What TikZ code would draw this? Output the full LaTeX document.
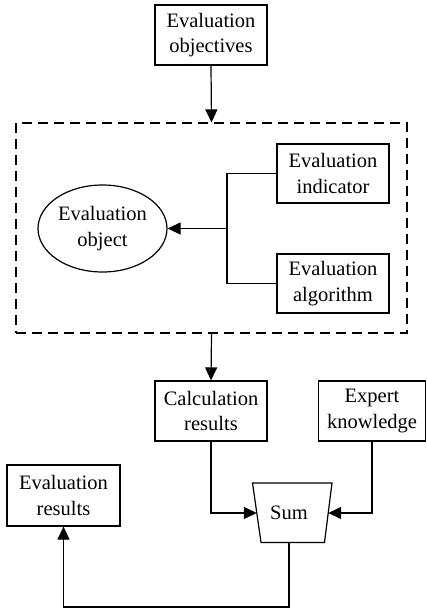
\documentclass[tikz,border=0pt]{standalone}
\usepackage{fontspec}
\setmainfont{Liberation Serif}
\usetikzlibrary{arrows.meta,shapes.geometric}
\begin{document}
\begin{tikzpicture}[x=1pt,y=-1pt,
  every node/.style={font=\fontsize{20.5}{25.5}\selectfont, align=center, inner sep=0pt},
  box/.style={draw, line width=1.2pt, rectangle},
  conn/.style={line width=1.2pt},
  arr/.style={conn, -{Triangle[length=13pt,width=12pt]}}]
\useasboundingbox (0,0) rectangle (427,611);
\node[box, minimum width=112pt, minimum height=60pt] (obj) at (211,35) {Evaluation\\objectives};
\node[draw, line width=1.2pt, dash pattern=on 10pt off 6pt, minimum width=391pt, minimum height=210pt] (dash) at (211.5,228) {};
\node[box, minimum width=112pt, minimum height=59pt] (ind) at (333,173.5) {Evaluation\\indicator};
\node[box, minimum width=112pt, minimum height=59pt] (alg) at (333,283.5) {Evaluation\\algorithm};
\node[draw, ellipse, line width=1.2pt, minimum width=129pt, minimum height=87pt] (eo) at (102.5,228.5) {Evaluation\\object};
\node[box, minimum width=112pt, minimum height=60pt] (calc) at (211,411) {Calculation\\results};
\node[box, minimum width=107pt, minimum height=60pt] (exp) at (372,411) {Expert\\knowledge};
\node[box, minimum width=113pt, minimum height=61pt] (res) at (63.5,495.5) {Evaluation\\results};
\node (sum) at (289,513) {Sum};
\coordinate (tl) at (252.5,483);
\coordinate (tr) at (332,483);
\coordinate (br) at (324.5,542.5);
\coordinate (bl) at (261,542.5);
\draw[line width=1.2pt, line join=miter] (tl) -- (tr) -- (br) -- (bl) -- cycle;
\coordinate (sumL) at (256.8,513);
\coordinate (sumR) at (328.2,513);
\coordinate (sumB) at (289,542.5);
\coordinate (j) at (227,228.5);
\draw[arr] (obj.south) -- (dash.north);
\draw[conn] (ind.west) -| (j);
\draw[conn] (alg.west) -| (j);
\draw[arr] (j) -- (eo.east);
\draw[arr] (dash.south) -- (calc.north);
\draw[arr] (calc.south) |- (sumL);
\draw[arr] (exp.south) |- (sumR);
\draw[arr] (sumB) -- (289,607) -| (res.south);
\end{tikzpicture}
\end{document}
